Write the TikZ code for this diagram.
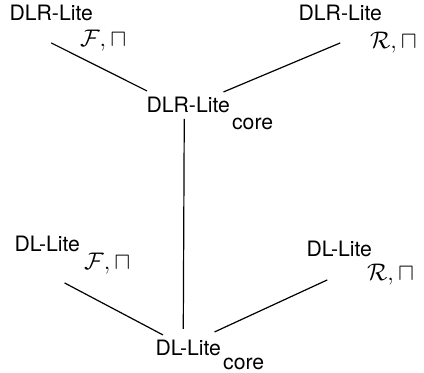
\documentclass[tikz,border=0pt]{standalone}
\usepackage{fontspec}
\setmainfont{TeX Gyre Heros}
\usetikzlibrary{positioning}

\begin{document}
\begin{tikzpicture}[x=0.5pt, y=-0.5pt, every node/.style={inner sep=0pt, anchor=base west, font=\fontsize{10.6}{12}\selectfont}, subs/.style={font=\fontsize{12.2}{14}\selectfont}, bigsubs/.style={font=\fontsize{12.8}{15}\selectfont}, line width=0.6pt]

  \useasboundingbox (0,0) rectangle (424,372);

  % DLR-Lite family
  \node (dlrF) at (9,20) {DLR-Lite};
  \node[subs] (dlrFsub) at ([shift={(-14,26)}]dlrF.base east) {$\mathcal{F},\sqcap$};
  \node (dlrR) at (298,20) {DLR-Lite};
  \node[bigsubs] (dlrRsub) at ([shift={(-13,28)}]dlrR.base east) {$\mathcal{R},\sqcap$};
  \node (dlrcore) at (146,112) {DLR-Lite};
  \node (dlrcoresub) at ([shift={(1,17)}]dlrcore.base east) {core};

  % DL-Lite family
  \node (dlF) at (14,251) {DL-Lite};
  \node[subs] (dlFsub) at ([shift={(3,18)}]dlF.base east) {$\mathcal{F},\sqcap$};
  \node (dlR) at (306,256) {DL-Lite};
  \node[bigsubs] (dlRsub) at ([shift={(-6,24)}]dlR.base east) {$\mathcal{R},\sqcap$};
  \node (dlcore) at (155,355) {DL-Lite};
  \node (dlcoresub) at ([shift={(1,14)}]dlcore.base east) {core};

  % Edges
  \draw ([shift={(0,22)}]dlrF.south) -- ([shift={(1,-5)}]dlrcore.north west);
  \draw ([shift={(0,22)}]dlrR.south) -- ([shift={(-7,-4)}]dlrcore.north east);
  \draw ([shift={(-4,6)}]dlrcore.south) -- ([shift={(-5,-10)}]dlcore.north);
  \draw ([shift={(-16,31)}]dlF.south east) -- ([shift={(8,-4)}]dlcore.north west);
  \draw ([shift={(-12,23)}]dlR.south) -- ([shift={(-7,-7)}]dlcore.north east);

\end{tikzpicture}
\end{document}
